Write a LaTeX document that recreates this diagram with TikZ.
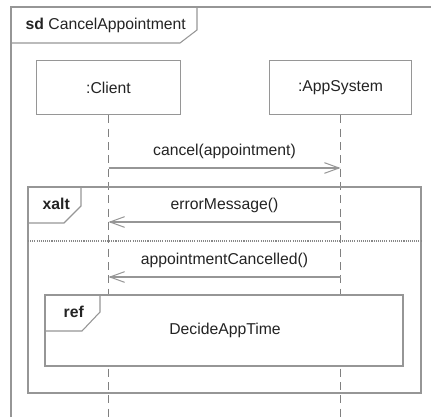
\documentclass[tikz,border=0pt]{standalone}
\usepackage{fontspec}
\setmainfont{Liberation Sans}
\usetikzlibrary{arrows.meta}
\definecolor{linegray}{RGB}{150,150,150}
\definecolor{txtgray}{RGB}{35,35,35}
\tikzset{
  frame/.style={draw=linegray,line width=0.8pt},
  objbox/.style={frame,fill=white,minimum width=108pt,minimum height=41pt,
    text=txtgray,font=\fontsize{11.8}{14}\selectfont},
  lifeline/.style={draw=linegray!85!black,line width=0.75pt,dash pattern=on 6pt off 4pt},
  msg/.style={draw=linegray,line width=0.8pt,
    -{Straight Barb[length=11pt,width=8pt,line width=0.75pt]}},
  msglabel/.style={text=txtgray,font=\fontsize{11.8}{14}\selectfont,above=3.5pt,midway},
  tablabel/.style={text=txtgray,font=\fontsize{11.8}{14}\selectfont,anchor=west}
}
\begin{document}
\begin{tikzpicture}[x=0.75pt,y=-0.75pt]
  \useasboundingbox (0,0) rectangle (431,417);
  % outer sd frame
  \draw[frame] (11,417) -- (11,7) -- (431,7);
  \draw[frame] (11,43) -- (180,43) -- (197,30) -- (197,7);
  \node[tablabel] (sdname) at (21,25) {\textbf{sd} CancelAppointment};
  % lifelines
  \node[objbox] (client) at (108.5,87.5) {:Client};
  \node[objbox,minimum width=107pt] (appsys) at (340.5,87.5) {:AppSystem};
  \coordinate (clientend) at (108.5,417);
  \coordinate (appsysend) at (340.5,417);
  \draw[lifeline] (client) -- (clientend);
  \draw[lifeline] (appsys) -- (appsysend);
  % messages
  \coordinate (cancelA) at (108.5,168);
  \coordinate (cancelB) at (340.5,168);
  \draw[msg] (cancelA) -- (cancelB) node[msglabel] (cancellbl) {cancel(appointment)};
  % xalt fragment
  \draw[frame] (28,187) rectangle (421,393);
  \draw[frame] (28,223) -- (64,223) -- (81,206) -- (81,187);
  \node[tablabel] (xaltname) at (38,204) {\textbf{xalt}};
  \draw[draw=linegray!90!black,line width=0.8pt,dash pattern=on 0.8pt off 0.8pt] (28,241) -- (421,241);
  \coordinate (errA) at (340.5,222);
  \coordinate (errB) at (108.5,222);
  \draw[msg] (errA) -- (errB) node[msglabel] (errlbl) {errorMessage()};
  \coordinate (doneA) at (340.5,277);
  \coordinate (doneB) at (108.5,277);
  \draw[msg] (doneA) -- (doneB) node[msglabel] (donelbl) {appointmentCancelled()};
  % ref fragment
  \draw[frame,fill=white] (45,295) rectangle (403,366);
  \draw[frame] (45,331) -- (82,331) -- (100,312) -- (100,295);
  \node[tablabel] (refname) at (59,312) {\textbf{ref}};
  \node[text=txtgray,font=\fontsize{11.8}{14}\selectfont] (refbody) at (225,330) {DecideAppTime};
\end{tikzpicture}
\end{document}
